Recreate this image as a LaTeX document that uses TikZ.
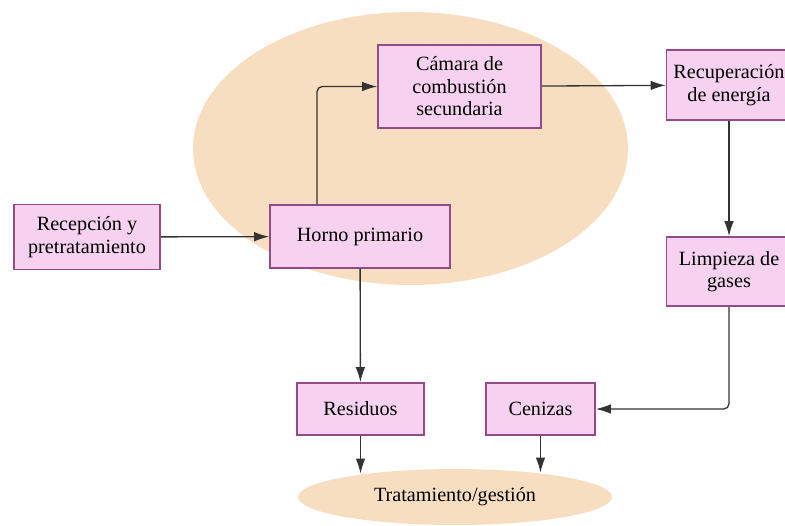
\documentclass[tikz,border=0pt]{standalone}
\usepackage{fontspec}
\setmainfont{Liberation Serif}
\usetikzlibrary{arrows.meta, positioning, shapes.geometric}

\definecolor{boxfill}{RGB}{246,210,240}
\definecolor{boxline}{RGB}{145,76,135}
\definecolor{blobfill}{RGB}{248,222,192}

\tikzset{
  stage/.style={draw=boxline, fill=boxfill, line width=0.9pt, align=center, inner sep=0pt,
    font=\fontsize{11.5}{12.8}\selectfont},
  blob/.style={ellipse, fill=blobfill, inner sep=0pt},
  flow/.style={-{Latex[length=3mm,width=1.9mm]}, draw=black!80, line width=0.75pt}
}

\begin{document}
\begin{tikzpicture}[x=0.02cm, y=-0.02cm]

        \useasboundingbox (0,0) rectangle (785,525);

        % zonas de fondo
        \node[blob, minimum width=8.7cm, minimum height=5.46cm] (zona) at (410.5,148.5) {};
        \node[blob, minimum width=6.28cm, minimum height=1.12cm, font=\fontsize{11.5}{12.8}\selectfont] (trat) at (455,497) {Tratamiento/gestión};

        % etapas
        \node[stage, minimum width=2.92cm, minimum height=1.3cm] (recep) at (87,237) {Recepción y\\pretratamiento};
        \node[stage, minimum width=3.6cm, minimum height=1.26cm] (horno) at (360,236.5) {Horno primario};
        \node[stage, minimum width=3.26cm, minimum height=1.66cm] (camara) at (459.5,86.5) {Cámara de\\combustión\\secundaria};
        \node[stage, minimum width=2.5cm, minimum height=1.4cm] (recup) at (729,85) {Recuperación\\de energía};
        \node[stage, minimum width=2.5cm, minimum height=1.38cm] (limp) at (729,271.5) {Limpieza de\\gases};
        \node[stage, minimum width=2.54cm, minimum height=1.04cm] (resid) at (360.5,409) {Residuos};
        \node[stage, minimum width=2.18cm, minimum height=1.04cm] (ceniz) at (540.5,409) {Cenizas};

        % conexiones
        \draw[flow] (recep) -- (horno);
        \draw[flow, rounded corners=3pt] ([xshift=-0.86cm]horno.north) |- (camara.west);
        \draw[flow] (camara) -- (recup);
        \draw[flow] (recup) -- (limp);
        \draw[flow, rounded corners=3pt] (limp.south) |- (ceniz.east);
        \draw[flow] (horno) -- (resid);
        \draw[flow, shorten >=-0.1cm] (resid.south) -- (resid.south |- trat.north);
        \draw[flow, shorten >=-0.08cm] (ceniz.south) -- (ceniz.south |- trat.north);

\end{tikzpicture}
\end{document}
